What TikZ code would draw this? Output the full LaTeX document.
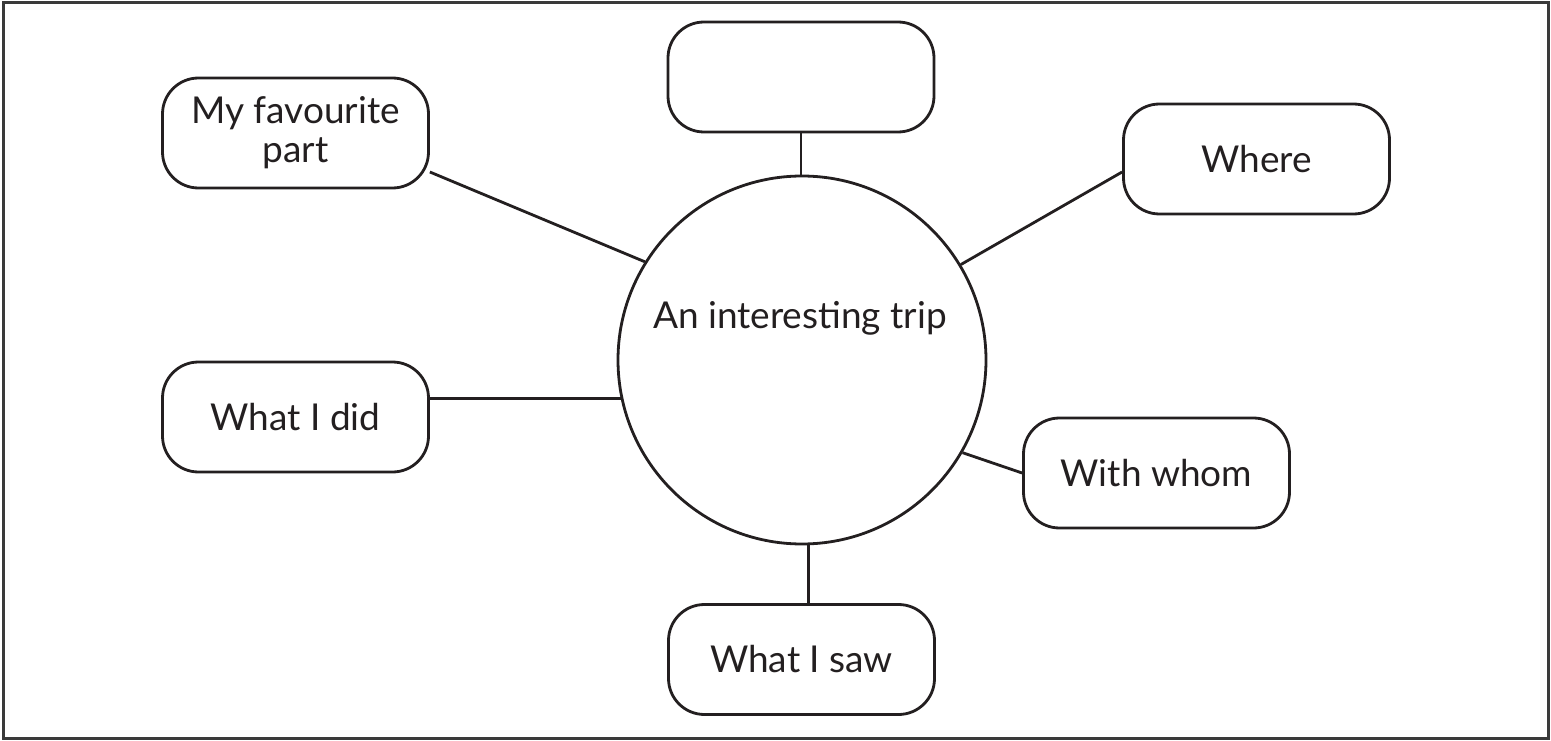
\documentclass[tikz,border=0pt]{standalone}
\usepackage{fontspec}
\setmainfont{Lato}
\definecolor{ink}{HTML}{231F20}
\definecolor{frame}{HTML}{3A3A3A}
\begin{document}
\begin{tikzpicture}[x=1pt,y=-1pt,
  box/.style={draw=ink,line width=2.8pt,rounded corners=36pt,minimum width=266pt,minimum height=110pt,inner sep=0pt,align=center,text=ink,font=\fontsize{37}{39}\selectfont},
  hub/.style={draw=ink,line width=2.8pt,circle,minimum size=368pt,inner sep=0pt},
  link/.style={draw=ink,line width=2.8pt},
  lbl/.style={text=ink,font=\fontsize{37}{39}\selectfont,inner sep=0pt}]
\useasboundingbox (0,0) rectangle (1551,741);
\draw[frame,line width=3pt] (3,3) rectangle (1548,738);
\node[hub] (c) at (802,360) {};
\node[lbl] (ctext) at (800,318) {An interesting trip};
\node[box] (top) at (801,77) {};
\node[box] (fav) at (295.5,133) {My favourite\\part};
\node[box] (where) at (1256.5,159) {Where};
\node[box] (did) at (295.5,417) {What I did};
\node[box] (whom) at (1156.5,473) {With whom};
\node[box] (saw) at (801.5,659.5) {What I saw};
\draw[link] (top.south) -- (top.south |- c.north);
\draw[link] ([yshift=-39pt]fav.east) -- (c.148.4);
\draw[link] ([yshift=-13pt]where.west) -- (c.31.9);
\draw[link] (c.192.8) -- (c.192.8 -| did.east);
\draw[link] (whom.west) -- (c.-30.2);
\draw[link] (c.-88.4) -- (c.-88.4 |- saw.north);
\end{tikzpicture}
\end{document}
